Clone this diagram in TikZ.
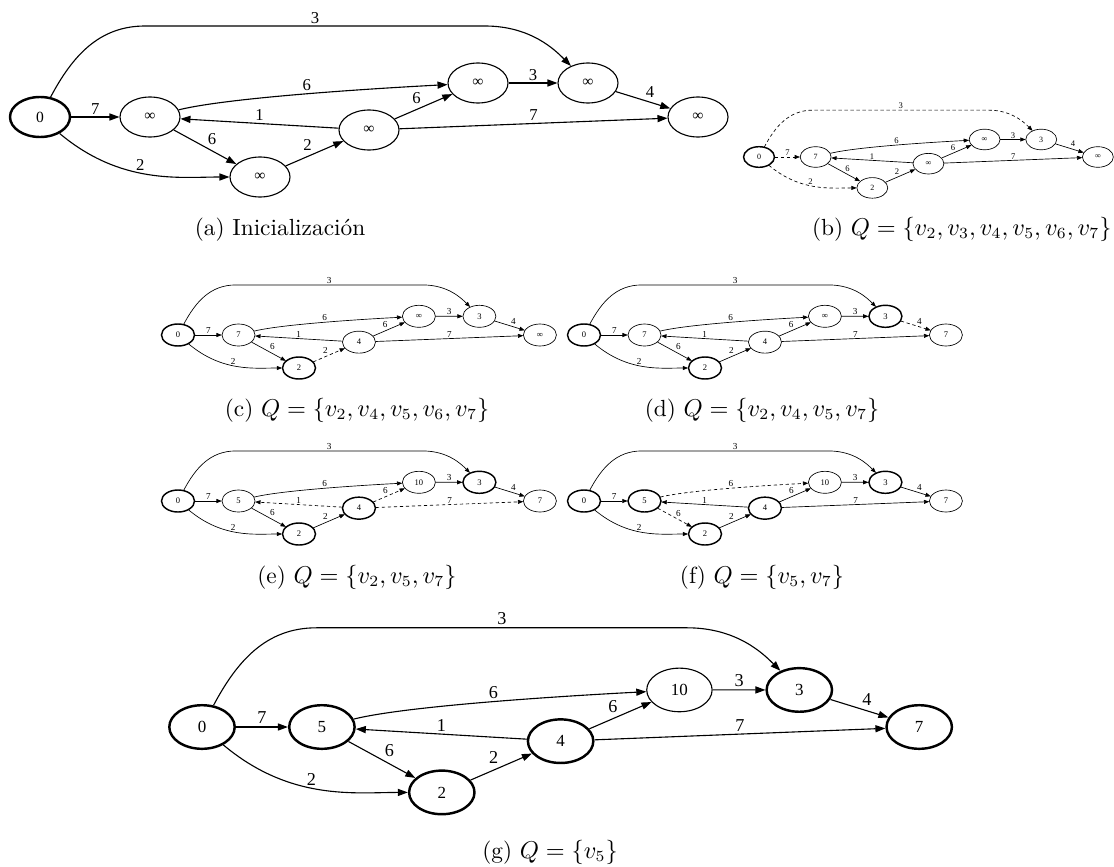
\documentclass[tikz,border=0pt]{standalone}
\usepackage{fontspec}
\usepackage{tikz}
\usetikzlibrary{shapes.geometric}
\usetikzlibrary{arrows.meta}
\newfontfamily\gvfont{Liberation Serif}

\tikzset{
  nA/.style={}, nB/.style={}, nC/.style={}, nD/.style={}, nE/.style={}, nF/.style={}, nG/.style={},
  eAB/.style={}, eAC/.style={}, eAF/.style={}, eBC/.style={}, eBE/.style={}, eCD/.style={},
  eDB/.style={}, eDE/.style={}, eDG/.style={}, eEF/.style={}, eFG/.style={}
}

% one state of the graph: #1 scope options, #2..#8 distances of A..G
\newcommand{\dgraph}[8]{%
\begin{scope}[#1]
  \node[vert,nA] (A) at (0,0) {#2};
  \node[vert,nB] (B) at (110,0) {#3};
  \node[vert,nC] (C) at (220,60) {#4};
  \node[vert,nD] (D) at (329,13) {#5};
  \node[vert,nE] (E) at (438,-34) {#6};
  \node[vert,nF] (F) at (548,-34) {#7};
  \node[vert,nG] (G) at (658,0) {#8};
  \coordinate (t1) at (105,-91);
  \coordinate (t2) at (445,-91);
  \draw[link,eAB] (A) -- node[lbl,above] {7} (B);
  \draw[link,eAC] (A) to[out=-40,in=180] node[lbl,above,pos=0.45] {2} (C);
  \draw[link,eAF] (A) to[out=62,in=180] (t1) -- node[lbl,above] {3} (t2) to[out=0,in=135] (F);
  \draw[link,eBC] (B) -- node[lbl,above right] {6} (C);
  \draw[link,eBE] (B) to[out=14,in=183,looseness=0.5] node[lbl,above,pos=0.45] {6} (E);
  \draw[link,eCD] (C) -- node[lbl,above left] {2} (D);
  \draw[link,eDB] (D) -- node[lbl,above] {1} (B);
  \draw[link,eDE] (D) -- node[lbl,above left] {6} (E);
  \draw[link,eDG] (D) -- node[lbl,above] {7} (G);
  \draw[link,eEF] (E) -- node[lbl,above] {3} (F);
  \draw[link,eFG] (F) -- node[lbl,above right] {4} (G);
\end{scope}}

\begin{document}
\begin{tikzpicture}[x=0.45pt, y=-0.45pt,
vert/.style = {ellipse, draw, inner sep=0pt, minimum width=27pt, minimum height=18pt,
  font=\gvfont\fontsize{7}{8.5}\selectfont},
lbl/.style = {font=\gvfont\fontsize{7.5}{9}\selectfont, inner sep=1pt},
link/.style = {->},
bigg/.style = {line width=0.5pt, >={Triangle[length=4.5pt,width=3.2pt]},
  visited/.style={line width=1.1pt}, relaxed/.style={dash pattern=on 2.5pt off 2pt}},
smallg/.style = {line width=0.3pt, >={Triangle[length=2.4pt,width=1.8pt]},
  visited/.style={line width=0.65pt}, relaxed/.style={dash pattern=on 1.5pt off 1.2pt}},
caption/.style = {inner sep=0pt, font=\fontsize{10.5}{12.5}\selectfont}
]
\useasboundingbox (0,0) rectangle (1114,866);

\dgraph{name prefix=ga-, shift={(40,117)}, bigg, transform shape,
  nA/.style=visited}{0}{∞}{∞}{∞}{∞}{∞}{∞}
\dgraph{name prefix=gb-, shift={(759,157)}, scale=0.515, smallg, transform shape,
  nA/.style=visited, eAB/.style=relaxed, eAC/.style=relaxed, eAF/.style=relaxed}{0}{7}{2}{∞}{∞}{3}{∞}
\dgraph{name prefix=gc-, shift={(178,335)}, scale=0.55, smallg, transform shape,
  nA/.style=visited, nC/.style=visited, eCD/.style=relaxed}{0}{7}{2}{4}{∞}{3}{∞}
\dgraph{name prefix=gd-, shift={(584,335)}, scale=0.55, smallg, transform shape,
  nA/.style=visited, nC/.style=visited, nF/.style=visited, eFG/.style=relaxed}{0}{7}{2}{4}{∞}{3}{7}
\dgraph{name prefix=ge-, shift={(178,501)}, scale=0.55, smallg, transform shape,
  nA/.style=visited, nC/.style=visited, nD/.style=visited, nF/.style=visited,
  eDB/.style=relaxed, eDE/.style=relaxed, eDG/.style=relaxed}{0}{5}{2}{4}{10}{3}{7}
\dgraph{name prefix=gf-, shift={(584,501)}, scale=0.55, smallg, transform shape,
  nA/.style=visited, nB/.style=visited, nC/.style=visited, nD/.style=visited, nF/.style=visited,
  eBC/.style=relaxed, eBE/.style=relaxed}{0}{5}{2}{4}{10}{3}{7}
\dgraph{name prefix=gg-, shift={(202,727)}, scale=1.09, bigg, transform shape,
  nA/.style=visited, nB/.style=visited, nC/.style=visited, nD/.style=visited, nF/.style=visited,
  nG/.style=visited}{0}{5}{2}{4}{10}{3}{7}

% captions
\node[caption] (capa) at (280,230) {(a)\ Inicialización};
\node[caption, anchor=east] (capb) at (1112,229) {(b)\ $Q=\{v_2,v_3,v_4,v_5,v_6,v_7\}$};
\node[caption] (capc) at (357,410) {(c)\ $Q=\{v_2,v_4,v_5,v_6,v_7\}$};
\node[caption] (capd) at (762,410) {(d)\ $Q=\{v_2,v_4,v_5,v_7\}$};
\node[caption] (cape) at (357,577) {(e)\ $Q=\{v_2,v_5,v_7\}$};
\node[caption] (capf) at (762,577) {(f)\ $Q=\{v_5,v_7\}$};
\node[caption] (capg) at (550,852) {(g)\ $Q=\{v_5\}$};

\end{tikzpicture}
\end{document}
